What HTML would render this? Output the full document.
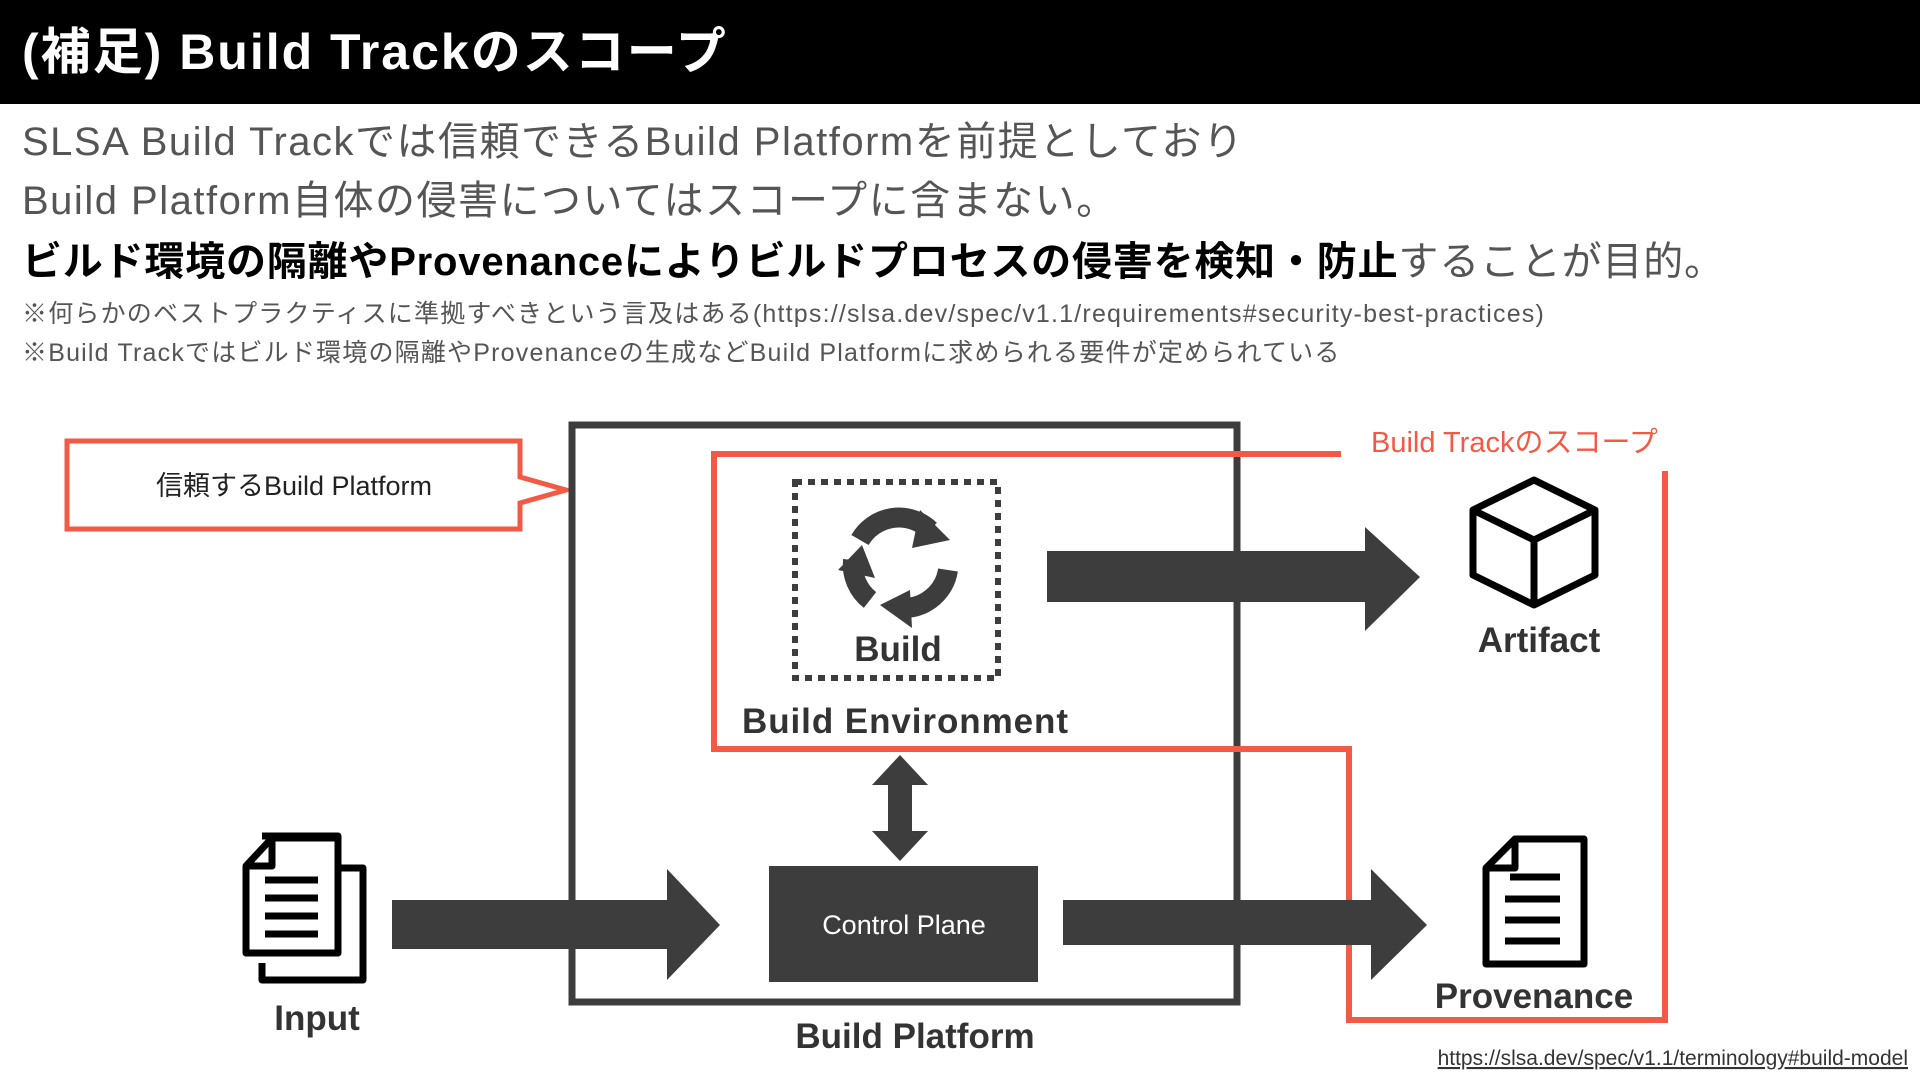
<!DOCTYPE html>
<html><head><meta charset="utf-8"><style>
body{margin:0;width:1920px;height:1080px;background:#fff;overflow:hidden;position:relative;font-family:"Liberation Sans","Noto Sans CJK JP",sans-serif}
.hd{position:absolute;left:0;top:0;width:1920px;height:104px;background:#000;color:#fff;font-weight:bold;font-size:50px;letter-spacing:2px;line-height:104px;padding-left:22px;box-sizing:border-box}
.t{position:absolute;left:22px;white-space:nowrap;color:#555}
</style></head><body>
<div class="hd">(補足) Build Trackのスコープ</div>
<div class="t" style="top:109px;font-size:40px;letter-spacing:1.5px">SLSA Build Trackでは信頼できるBuild Platformを前提としており</div>
<div class="t" style="top:168px;font-size:40px;letter-spacing:1.5px">Build Platform自体の侵害についてはスコープに含まない。</div>
<div class="t" style="top:229px;font-size:40px;letter-spacing:0.8px"><b style="color:#000">ビルド環境の隔離やProvenanceによりビルドプロセスの侵害を検知・防止</b>することが目的。</div>
<div class="t" style="top:294px;font-size:25px;letter-spacing:1.2px">※何らかのベストプラクティスに準拠すべきという言及はある(https://slsa.dev/spec/v1.1/requirements#security-best-practices)</div>
<div class="t" style="top:333px;font-size:25px;letter-spacing:1.2px">※Build Trackではビルド環境の隔離やProvenanceの生成などBuild Platformに求められる要件が定められている</div>
<svg width="1920" height="1080" style="position:absolute;left:0;top:0" font-family="'Liberation Sans','Noto Sans CJK JP',sans-serif">
<path d="M67 441 H520 V477 L566 490 L520 503 V529 H67 Z" fill="none" stroke="#f25a45" stroke-width="5"/>
<text x="294" y="495" font-size="27" text-anchor="middle" fill="#222">信頼するBuild Platform</text>
<rect x="572" y="425" width="665" height="577" fill="none" stroke="#3d3d3d" stroke-width="7"/>
<path d="M1341 454 H714 V749 H1349 V1020 H1665 V471" fill="none" stroke="#f25a45" stroke-width="6"/>
<text x="1371" y="452" font-size="29" fill="#f25a45">Build Trackのスコープ</text>
<rect x="795" y="482" width="203" height="196" fill="none" stroke="#3d3d3d" stroke-width="6" stroke-dasharray="7 6"/>
<g fill="none" stroke="#3d3d3d" stroke-width="20">
<path d="M860 540 A45 45 0 0 1 930 530"/>
<path d="M948 570 A45 45 0 0 1 905 608"/>
<path d="M870 600 A45 45 0 0 1 853 560"/>
</g>
<g fill="#3d3d3d">
<polygon points="920,510 950,540 912,548"/>
<polygon points="910,590 912,628 880,605"/>
<polygon points="838,570 862,545 875,578"/>
</g>
<text x="898" y="661" font-size="35" font-weight="bold" text-anchor="middle" fill="#333">Build</text>
<text x="742" y="733" font-size="35" font-weight="bold" fill="#333" textLength="326">Build Environment</text>
<g fill="#3d3d3d">
<polygon points="1047,551 1365,551 1365,527 1420,577 1365,631 1365,602 1047,602"/>
<polygon points="392,900 667,900 667,869 720,925 667,980 667,949 392,949"/>
<polygon points="1063,900 1371,900 1371,869 1427,925 1371,980 1371,945 1063,945"/>
<polygon points="900,755 928,785 912,785 912,831 928,831 900,861 872,831 888,831 888,785 872,785"/>
<rect x="769" y="866" width="269" height="116"/>
</g>
<text x="904" y="934" font-size="27" text-anchor="middle" fill="#fff">Control Plane</text>
<g fill="none" stroke="#000" stroke-width="7" stroke-linejoin="round">
<polygon points="1534,480 1595,510 1595,575 1534,605 1473,575 1473,510"/>
<polyline points="1473,510 1534,540 1595,510"/><line x1="1534" y1="540" x2="1534" y2="605"/>
</g>
<text x="1539" y="652" font-size="35" font-weight="bold" text-anchor="middle" fill="#333">Artifact</text>
<g fill="none" stroke="#000" stroke-width="7" stroke-linejoin="round">
<path d="M262 836 H338 V868 M336 868 H363 V980 H262 V963"/>
<path d="M272 838 H338 V953 H246 V866 Z"/>
<path d="M246 866 H272 V838"/>
<line x1="265" y1="880" x2="318" y2="880"/><line x1="265" y1="898" x2="318" y2="898"/><line x1="265" y1="916" x2="318" y2="916"/><line x1="265" y1="934" x2="318" y2="934"/>
</g>
<text x="317" y="1030" font-size="35" font-weight="bold" text-anchor="middle" fill="#333">Input</text>
<g fill="none" stroke="#000" stroke-width="7" stroke-linejoin="round">
<path d="M1515 839 H1584 V964 H1486 V868 Z"/>
<path d="M1486 868 H1515 V839"/>
<line x1="1510" y1="877" x2="1560" y2="877"/><line x1="1505" y1="899" x2="1560" y2="899"/><line x1="1505" y1="920" x2="1560" y2="920"/><line x1="1505" y1="941" x2="1560" y2="941"/>
</g>
<text x="1534" y="1008" font-size="35" font-weight="bold" text-anchor="middle" fill="#333">Provenance</text>
<text x="915" y="1048" font-size="35" font-weight="bold" text-anchor="middle" fill="#333">Build Platform</text>
<text x="1908" y="1065" font-size="21" text-anchor="end" fill="#333" text-decoration="underline">https://slsa.dev/spec/v1.1/terminology#build-model</text>
</svg>
</body></html>
